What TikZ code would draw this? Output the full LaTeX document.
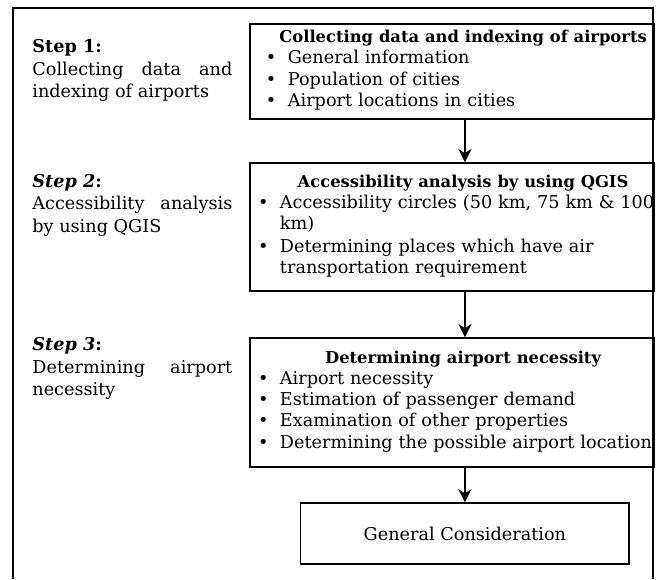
\documentclass[tikz,border=0pt]{standalone}
\usepackage{fontspec}
\setmainfont{DejaVu Serif}
\usetikzlibrary{arrows.meta, positioning}
\hyphenpenalty=10000

\newlength{\bulletskip}
\setlength{\bulletskip}{0.21cm}
\newcommand{\boxhead}[1]{\centerline{\hskip 0.58cm\bfseries\fontsize{12.3}{16}\selectfont #1}}
\newcommand{\bitem}[1]{\par\noindent\hskip\bulletskip\makebox[0.58cm][l]{\textbullet}\begin{tabular}[t]{@{}l@{}}#1\end{tabular}\par}

\begin{document}
\begin{tikzpicture}[
    stepbox/.style={draw, line width=1.5pt, anchor=north west, text width=10.69cm, inner xsep=0pt, align=left, font=\fontsize{13.3}{16}\selectfont},
    steptext/.style={anchor=north west, inner sep=0pt, text width=5.29cm, align=justify, font=\fontsize{13.3}{17}\selectfont},
    >={Stealth[length=10pt, width=10pt]}
]
  \useasboundingbox (0, 0) rectangle (17.62, -15.32);
  \draw[line width=1.5pt] (0.344, -15.32) -- (0.344, -0.2) -- (17.28, -0.2) -- (17.28, -15.32);

  \node[steptext] (T1) at (0.85, -1.04) {\textbf{Step 1:}\\Collecting data and indexing of airports};
  \node[steptext] (T2) at (0.85, -4.6) {\textbf{\textit{Step 2}:}\\Accessibility analysis by using QGIS};
  \node[steptext] (T3) at (0.85, -8.92) {\textbf{\textit{Step 3}:}\\Determining airport necessity};

  \node[stepbox, minimum height=2.51cm] (S1) at (6.59, -0.61) {\setlength{\bulletskip}{0.42cm}\boxhead{Collecting data and indexing of airports}
    \bitem{General information}\bitem{Population of cities}\bitem{Airport locations in cities}};
  \node[stepbox, minimum height=3.39cm] (S2) at (6.59, -4.29) {\boxhead{Accessibility analysis by using QGIS}
    \bitem{Accessibility circles (50 km, 75 km \& 100\\km)}\bitem{Determining places which have air\\transportation requirement}};
  \node[stepbox, minimum height=3.41cm] (S3) at (6.59, -8.92) {\boxhead{Determining airport necessity}
    \bitem{Airport necessity}\bitem{Estimation of passenger demand}\bitem{Examination of other properties}\bitem{Determining the possible airport location}};

  \node[draw, line width=1.5pt, minimum width=8.70cm, minimum height=1.61cm, font=\fontsize{13.3}{16}\selectfont] (G) at (12.30, -14.12) {General Consideration};

  \draw[->, very thick] (S1.south -| G.north) -- (S2.north -| G.north);
  \draw[->, very thick] (S2.south -| G.north) -- (S3.north -| G.north);
  \draw[->, very thick] (S3.south -| G.north) -- (G.north);
\end{tikzpicture}
\end{document}
